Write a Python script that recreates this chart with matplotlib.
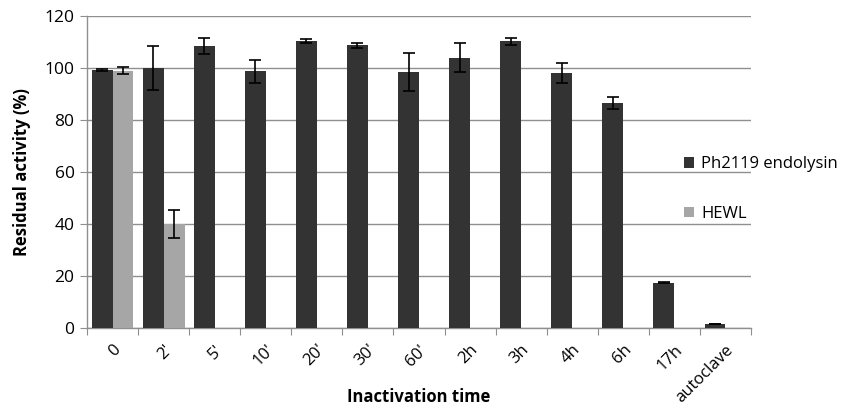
import matplotlib.pyplot as plt
import numpy as np

# --- data ---
times = ["0", "2'", "5'", "10'", "20'", "30'", "60'", "2h", "3h", "4h", "6h", "17h", "autoclave"]
endolysin = [99.2, 100.0, 108.5, 98.7, 110.3, 108.8, 98.5, 104.0, 110.3, 98.1, 86.7, 17.4, 1.6]
endolysin_err = [0.3, 8.5, 3.0, 4.4, 0.7, 1.0, 7.3, 5.6, 1.3, 4.0, 2.3, 0.2, 0.1]
hewl = [99.0, 40.0]
hewl_err = [1.4, 5.5]

plt.rcParams['font.family'] = ['Open Sans', 'DejaVu Sans']

fig = plt.figure(figsize=(8.44, 4.09), dpi=100)
ax = fig.add_axes([87 / 844, 81 / 409, 664 / 844, 312 / 409])

x = np.arange(len(times))
w = 0.41
grid_col = '#8f8f8f'

ax.bar(x - w / 2, endolysin, w, color='#333333', label='Ph2119 endolysin', zorder=3)
ax.errorbar(x - w / 2, endolysin, yerr=endolysin_err, fmt='none', ecolor='black',
            elinewidth=1.2, capsize=4, capthick=1.2, zorder=4)
xh = np.arange(len(hewl))
ax.bar(xh + w / 2, hewl, w, color='#a6a6a6', label='HEWL', zorder=3)
ax.errorbar(xh + w / 2, hewl, yerr=hewl_err, fmt='none', ecolor='black',
            elinewidth=1.2, capsize=4, capthick=1.2, zorder=4)

ax.set_xlim(-0.5, len(times) - 0.5)
ax.set_ylim(0, 120)
ax.set_yticks(np.arange(0, 121, 20))
ax.yaxis.grid(True, color=grid_col, linewidth=1.0)
ax.set_axisbelow(True)

# ticks on category boundaries, labels at centres
ax.set_xticks(np.arange(-0.5, len(times) + 0.5, 1))
ax.set_xticklabels([])
ax.set_xticks(x, minor=True)
ax.set_xticklabels(times, minor=True, rotation=45, ha='right', va='top',
                   rotation_mode='anchor', fontsize=12)
ax.tick_params(axis='x', which='minor', length=0, pad=10)
ax.tick_params(axis='x', which='major', length=5, color=grid_col)
ax.tick_params(axis='y', length=5, color=grid_col, labelsize=12.5, pad=4)

for s in ['top', 'right']:
    ax.spines[s].set_visible(False)
for s in ['left', 'bottom']:
    ax.spines[s].set_color(grid_col)
    ax.spines[s].set_linewidth(1.0)

ax.set_ylabel('Residual activity (%)', fontsize=12, fontweight='bold', labelpad=10)
fig.text(419 / 844, 1 - 397 / 409, 'Inactivation time', fontsize=12, fontweight='bold',
         ha='center', va='center')

fig.legend(loc='upper left', bbox_to_anchor=(676 / 844, 1 - 148 / 409), frameon=False,
           fontsize=12, handlelength=0.6, handleheight=0.6, handletextpad=0.4,
           labelspacing=2.0, borderpad=0)

fig.savefig('out.png', dpi=100)
